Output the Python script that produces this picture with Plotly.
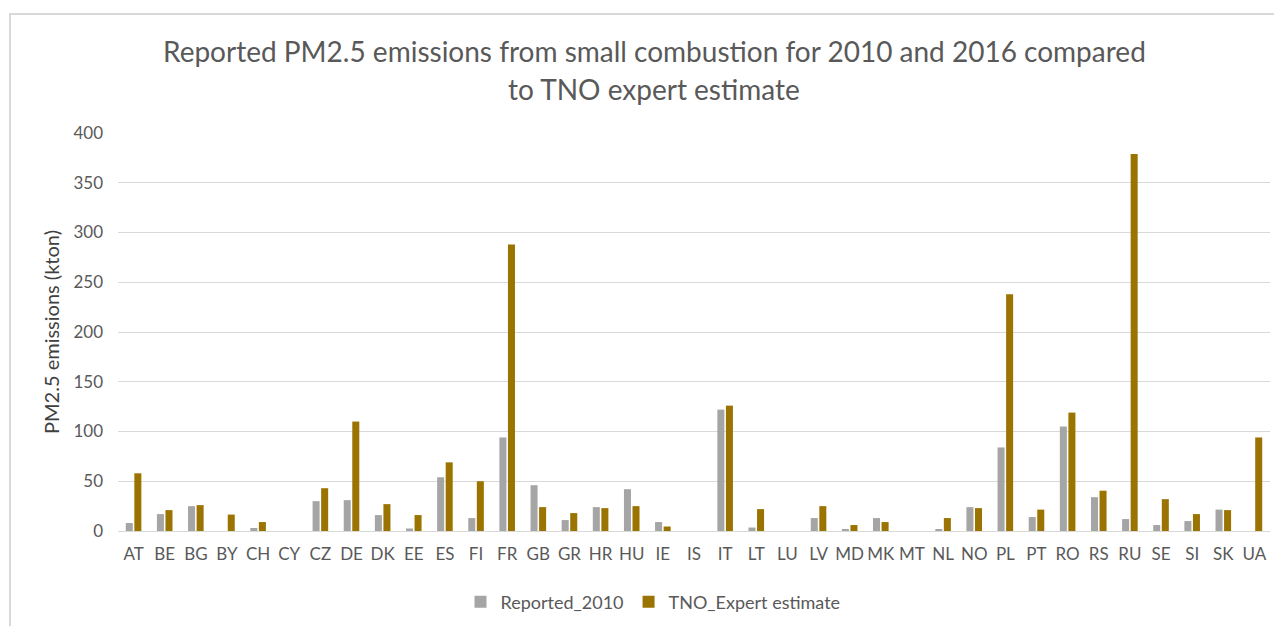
import plotly.graph_objects as go

countries = ["AT", "BE", "BG", "BY", "CH", "CY", "CZ", "DE", "DK", "EE", "ES", "FI", "FR",
             "GB", "GR", "HR", "HU", "IE", "IS", "IT", "LT", "LU", "LV", "MD", "MK", "MT",
             "NL", "NO", "PL", "PT", "RO", "RS", "RU", "SE", "SI", "SK", "UA"]
reported_2010 = [8, 17, 25, 0, 3, 0, 30, 31, 16, 2.5, 54, 13, 94,
                 46, 11, 24, 42, 9, 0, 122, 3.5, 0, 13, 2, 13, 0,
                 2, 24, 84, 14, 105, 34, 12, 6, 10, 21.5, 0]
tno_expert = [58, 21, 26, 16.5, 9, 0, 43, 110, 27, 16, 69, 50, 288,
              24, 18, 23, 25, 4.5, 0, 126, 22, 0, 25, 6, 9, 0,
              13, 23, 238, 21.5, 119, 40.5, 379, 32, 17, 21, 94]
y_ticks = [0, 50, 100, 150, 200, 250, 300, 350, 400]

FONT = "Lato"
TXT = "#595959"

fig = go.Figure()
fig.add_trace(go.Bar(x=countries, y=reported_2010, name="Reported_2010",
                     marker=dict(color="#A5A5A5", line=dict(width=0))))
fig.add_trace(go.Bar(x=countries, y=tno_expert, name="TNO_Expert estimate",
                     marker=dict(color="#9A7300", line=dict(width=0))))

# page body has an 8px margin: figure origin sits at (8, 8) of the window
OX, OY = 8, 8
W, H = 1274, 618
L, R, T, B = 118 - OX, 12, 133 - OY, 618 - (531 - OY)
pw, ph = W - L - R, H - T - B


def px(x):  # window x pixel -> paper x
    return (x - OX - L) / pw


def py(y):  # window y pixel -> paper y
    return (H - B - (y - OY)) / ph


fig.update_layout(
    width=W, height=H,
    margin=dict(l=L, r=R, t=T, b=B, autoexpand=False),
    paper_bgcolor="white", plot_bgcolor="white",
    barmode="group", bargap=0.45, bargroupgap=0.18,
    font=dict(family=FONT, color=TXT),
    showlegend=True,
    legend=dict(orientation="h", x=px(653), xanchor="center", y=py(602), yanchor="middle",
                font=dict(size=18, color=TXT), itemwidth=30, traceorder="normal",
                bgcolor="rgba(0,0,0,0)"),
    xaxis=dict(showgrid=False, showline=False, zeroline=False,
               tickfont=dict(size=17, color=TXT), ticks="", ticklabelstandoff=11),
    yaxis=dict(range=[0, 400], tickvals=y_ticks, showgrid=True, gridcolor="#D9D9D9",
               gridwidth=1, zeroline=True, zerolinecolor="#D9D9D9", zerolinewidth=1,
               showline=False, ticks="", tickfont=dict(size=17, color=TXT),
               ticklabelstandoff=14,
               title=dict(text="PM2.5 emissions (kton)", font=dict(size=20, color="#404040"),
                          standoff=8)),
    shapes=[dict(type="rect", xref="paper", yref="paper",
                 x0=px(10), x1=px(1300), y0=py(660), y1=py(14),
                 line=dict(color="#D9D9D9", width=2), fillcolor="rgba(0,0,0,0)",
                 layer="below")],
    annotations=[
        dict(text="Reported PM2.5 emissions from small combustion for 2010 and 2016 compared",
             xref="paper", yref="paper", x=px(654), y=py(51), xanchor="center", yanchor="middle",
             showarrow=False, font=dict(size=28, color=TXT, family=FONT)),
        dict(text="to TNO expert estimate",
             xref="paper", yref="paper", x=px(654), y=py(89), xanchor="center", yanchor="middle",
             showarrow=False, font=dict(size=28, color=TXT, family=FONT)),
    ],
)

fig.write_html("out.html")
